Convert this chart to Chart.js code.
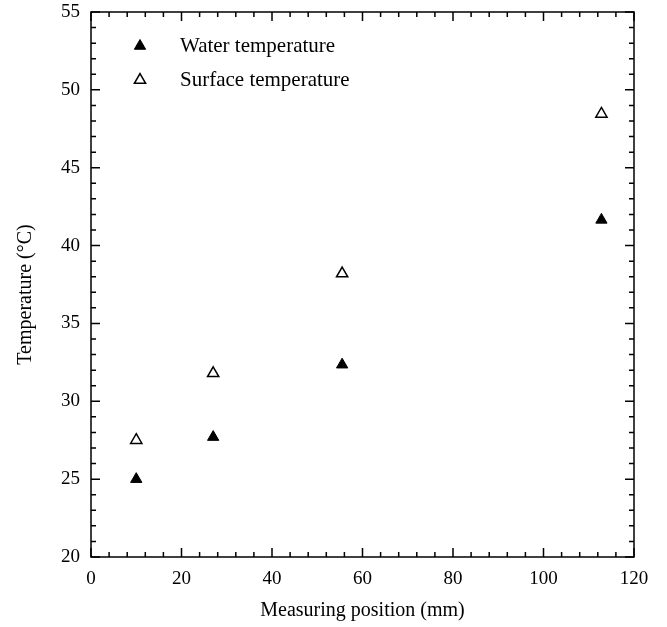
<!DOCTYPE html>
<html>
<head>
<meta charset="utf-8">
<script src="https://cdn.jsdelivr.net/npm/chart.js@4"></script>
<style>
  html, body { margin: 0; padding: 0; background: #fff; }
  #wrap { width: 667px; height: 627px; }
</style>
</head>
<body>
<div id="wrap"><canvas id="tempChart" width="667" height="627"></canvas></div>
<script>
// measuring positions (mm)
const positions = [10, 27, 55.5, 112.8];
const waterTemp = [25.0, 27.7, 32.35, 41.65];
const surfaceTemp = [27.5, 31.8, 38.2, 48.45];

const xTicks = [0, 20, 40, 60, 80, 100, 120];
const yTicks = [20, 25, 30, 35, 40, 45, 50, 55];

const FONT = "'Liberation Serif', 'Times New Roman', serif";

// inward ticks on all four sides, majors and minors
const frameTicks = {
  id: "frameTicks",
  afterDraw(chart) {
    const { ctx, chartArea: a, scales } = chart;
    const x = scales.x, y = scales.y;
    ctx.save();
    ctx.strokeStyle = "#000";
    ctx.lineWidth = 1.5;
    for (let v = 0; v <= 120; v += 4) {
      const px = x.getPixelForValue(v);
      const len = v % 20 === 0 ? 9 : 5;
      ctx.beginPath();
      ctx.moveTo(px, a.bottom); ctx.lineTo(px, a.bottom - len);
      ctx.moveTo(px, a.top); ctx.lineTo(px, a.top + len);
      ctx.stroke();
    }
    for (let v = 20; v <= 55; v += 1) {
      const py = y.getPixelForValue(v);
      const len = v % 5 === 0 ? 9 : 5;
      ctx.beginPath();
      ctx.moveTo(a.left, py); ctx.lineTo(a.left + len, py);
      ctx.moveTo(a.right, py); ctx.lineTo(a.right - len, py);
      ctx.stroke();
    }
    ctx.strokeRect(a.left, a.top, a.right - a.left, a.bottom - a.top);
    ctx.restore();
  }
};

// legend drawn inside the plot, top-left
const innerLegend = {
  id: "innerLegend",
  afterDraw(chart) {
    const { ctx, chartArea: a } = chart;
    ctx.save();
    ctx.font = "21px " + FONT;
    ctx.textBaseline = "middle";
    chart.data.datasets.forEach((ds, i) => {
      const cy = a.top + 34 + i * 34;
      const cx = a.left + 49;
      ctx.fillStyle = ds.pointBackgroundColor;
      ctx.strokeStyle = ds.pointBorderColor;
      ctx.lineWidth = ds.pointBorderWidth;
      Chart.helpers.drawPoint(ctx, { pointStyle: "triangle", radius: ds.pointRadius, borderWidth: ds.pointBorderWidth }, cx, cy);
      ctx.fillStyle = "#000";
      ctx.fillText(ds.label, a.left + 89, cy);
    });
    ctx.restore();
  }
};

new Chart(document.getElementById("tempChart"), {
  type: "scatter",
  data: {
    datasets: [
      {
        label: "Water temperature",
        data: positions.map((p, i) => ({ x: p, y: waterTemp[i] })),
        pointStyle: "triangle",
        pointRadius: 6.5,
        pointBackgroundColor: "#000",
        pointBorderColor: "#000",
        pointBorderWidth: 1
      },
      {
        label: "Surface temperature",
        data: positions.map((p, i) => ({ x: p, y: surfaceTemp[i] })),
        pointStyle: "triangle",
        pointRadius: 6.5,
        pointBackgroundColor: "#fff",
        pointBorderColor: "#000",
        pointBorderWidth: 1.5
      }
    ]
  },
  options: {
    responsive: false,
    animation: false,
    layout: { padding: { top: 12, right: 33, left: 0, bottom: 0 } },
    plugins: {
      legend: { display: false },
      tooltip: { enabled: false }
    },
    scales: {
      x: {
        type: "linear",
        min: 0,
        max: 120,
        afterBuildTicks: (s) => { s.ticks = xTicks.map((v) => ({ value: v })); },
        afterFit: (s) => { s.height = 70; s.paddingLeft = 0; s.paddingRight = 0; },
        grid: { display: false, drawTicks: false },
        border: { display: false },
        ticks: { color: "#000", font: { family: FONT, size: 19 }, padding: 11 },
        title: {
          display: true,
          text: "Measuring position (mm)",
          color: "#000",
          font: { family: FONT, size: 20 },
          padding: { top: 2 }
        }
      },
      y: {
        type: "linear",
        min: 20,
        max: 55,
        afterBuildTicks: (s) => { s.ticks = yTicks.map((v) => ({ value: v })); },
        afterFit: (s) => { s.width = 91; s.paddingTop = 0; s.paddingBottom = 0; },
        grid: { display: false, drawTicks: false },
        border: { display: false },
        ticks: { color: "#000", font: { family: FONT, size: 19 }, padding: 11 },
        title: {
          display: true,
          // trailing spaces nudge the label down a little, like the original
          text: "Temperature (°C)\u00a0\u00a0\u00a0\u00a0",
          color: "#000",
          font: { family: FONT, size: 20 },
          padding: { top: 14, bottom: 2 }
        }
      }
    }
  },
  plugins: [frameTicks, innerLegend]
});
</script>
</body>
</html>
